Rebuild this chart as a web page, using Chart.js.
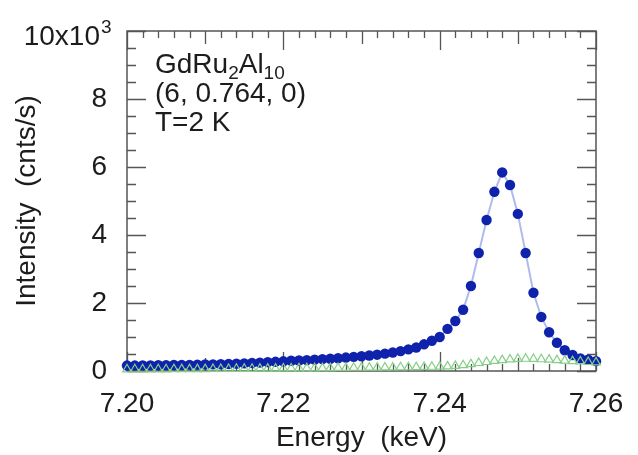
<!DOCTYPE html>
<html>
<head>
<meta charset="utf-8">
<script src="https://cdn.jsdelivr.net/npm/chart.js@4/dist/chart.umd.min.js"></script>
<style>
  html, body { margin: 0; padding: 0; background: #fff; }
  canvas { display: block; }
</style>
</head>
<body>
<canvas id="chart" width="638" height="455"></canvas>
<script>
// =========================
// DATA
// =========================
const energies = [
    7.200, 7.201, 7.202, 7.203, 7.204, 7.205, 7.206, 7.207, 7.208, 7.209,
    7.210, 7.211, 7.212, 7.213, 7.214, 7.215, 7.216, 7.217, 7.218, 7.219,
    7.220, 7.221, 7.222, 7.223, 7.224, 7.225, 7.226, 7.227, 7.228, 7.229,
    7.230, 7.231, 7.232, 7.233, 7.234, 7.235, 7.236, 7.237, 7.238, 7.239,
    7.240, 7.241, 7.242, 7.243, 7.244, 7.245, 7.246, 7.247, 7.248, 7.249,
    7.250, 7.251, 7.252, 7.253, 7.254, 7.255, 7.256, 7.257, 7.258, 7.259,
    7.260
];

// blue filled circles (cnts/s)
const intensityMain = [
    160, 160, 165, 165, 170, 170, 175, 175, 180, 185,
    190, 195, 200, 205, 215, 225, 235, 245, 260, 270,
    285, 300, 310, 320, 335, 350, 360, 375, 395, 415,
    435, 455, 480, 510, 545, 585, 635, 690, 785, 890,
    1000, 1240, 1470, 1800, 2500, 3470, 4440, 5270, 5840, 5470,
    4620, 3470, 2300, 1590, 1140, 830, 610, 470, 370, 330,
    290
];

// green open triangles (cnts/s)
const intensityOther = [
    50, 50, 50, 50, 50, 50, 55, 55, 55, 55,
    55, 60, 60, 60, 65, 65, 65, 70, 70, 70,
    75, 75, 80, 80, 80, 85, 85, 90, 90, 95,
    95, 100, 100, 105, 105, 110, 110, 115, 120, 125,
    130, 135, 150, 170, 200, 235, 265, 295, 320, 340,
    355, 360, 355, 345, 335, 320, 305, 290, 280, 265,
    255
];

const xTickLabels = ['7.20', '7.22', '7.24', '7.26'];
const yTickLabels = ['0', '2', '4', '6', '8', '10x10'];

const annotationLines = ['GdRu|2|Al|10', '(6, 0.764, 0)', 'T=2 K'];

// =========================
// STYLE
// =========================
const FONT = "'Liberation Sans', Arial, sans-serif";
const TEXT_COLOR = '#1c1c1c';
const AXIS_COLOR = '#555';

// =========================
// FRAME + INSIDE TICKS
// =========================
const frameTicks = {
    id: 'frameTicks',
    beforeDatasetsDraw(chart) {
        const { ctx, chartArea: a, scales: { x, y } } = chart;
        ctx.save();
        ctx.strokeStyle = AXIS_COLOR;
        ctx.lineWidth = 1.3;

        // x ticks, bottom + top
        for (let i = 0; i <= 30; i++) {
            const px = Math.round(x.getPixelForValue(7.2 + i * 0.002)) + 0.5;
            const len = i % 10 === 0 ? 19 : (i % 5 === 0 ? 13 : 7);
            ctx.beginPath();
            ctx.moveTo(px, a.bottom); ctx.lineTo(px, a.bottom - len);
            ctx.moveTo(px, a.top); ctx.lineTo(px, a.top + len);
            ctx.stroke();
        }

        // y ticks, left + right
        for (let i = 0; i <= 20; i++) {
            const py = Math.round(y.getPixelForValue(i * 500)) + 0.5;
            const len = i % 4 === 0 ? 19 : 9;
            ctx.beginPath();
            ctx.moveTo(a.left, py); ctx.lineTo(a.left + len, py);
            ctx.moveTo(a.right, py); ctx.lineTo(a.right - len, py);
            ctx.stroke();
        }

        ctx.lineWidth = 1.5;
        ctx.strokeRect(a.left, a.top, a.right - a.left, a.bottom - a.top);
        ctx.restore();
    },

    afterDraw(chart) {
        const { ctx, scales: { y } } = chart;
        ctx.save();
        ctx.fillStyle = TEXT_COLOR;
        ctx.textBaseline = 'alphabetic';

        // top y label with exponent
        const yTop = y.getPixelForValue(10000);
        ctx.font = `28px ${FONT}`;
        ctx.textAlign = 'right';
        ctx.fillText(yTickLabels[5], 100, yTop + 14);
        ctx.font = `19px ${FONT}`;
        ctx.textAlign = 'left';
        ctx.fillText('3', 101, yTop + 2);

        // sample annotation
        let tx = 155;
        const big = `28px ${FONT}`, small = `19px ${FONT}`;
        const parts = annotationLines[0].split('|');
        parts.forEach((p, k) => {
            const sub = k % 2 === 1;
            ctx.font = sub ? small : big;
            ctx.fillText(p, tx, sub ? 79 : 73);
            tx += ctx.measureText(p).width;
        });
        ctx.font = big;
        ctx.fillText(annotationLines[1], 155, 102);
        ctx.fillText(annotationLines[2], 155, 131);
        ctx.restore();
    }
};

// =========================
// CHART
// =========================
function buildChart() {
    const ctx = document.getElementById('chart').getContext('2d');

    const mainPts = energies.map((e, i) => ({ x: e, y: intensityMain[i] }));
    const otherPts = energies.map((e, i) => ({ x: e, y: intensityOther[i] }));

    new Chart(ctx, {
        type: 'scatter',
        data: {
            datasets: [
                {
                    data: otherPts,
                    showLine: false,
                    clip: false,
                    pointStyle: 'triangle',
                    pointRadius: 5,
                    pointBorderWidth: 1.2,
                    pointBorderColor: '#86cf86',
                    pointBackgroundColor: 'rgba(255,255,255,0)'
                },
                {
                    data: mainPts,
                    showLine: true,
                    clip: false,
                    borderColor: 'rgba(125, 140, 228, 0.6)',
                    borderWidth: 2,
                    pointRadius: 5.2,
                    pointBorderWidth: 0,
                    pointBackgroundColor: '#0f22ac'
                }
            ]
        },
        options: {
            responsive: false,
            animation: false,
            devicePixelRatio: 1,
            layout: { padding: { top: 31, right: 42, left: 0, bottom: 0 } },
            plugins: { legend: { display: false }, tooltip: { enabled: false } },
            scales: {
                x: {
                    type: 'linear',
                    min: 7.2,
                    max: 7.26,
                    grid: { display: false },
                    border: { display: false },
                    afterFit: s => { s.height = 84; },
                    afterBuildTicks: s => {
                        s.ticks = xTickLabels.map(t => ({ value: parseFloat(t) }));
                    },
                    ticks: {
                        padding: 8,
                        color: TEXT_COLOR,
                        font: { family: FONT, size: 28 },
                        maxRotation: 0,
                        callback: v => v.toFixed(2)
                    },
                    title: {
                        display: true,
                        text: 'Energy  (keV)',
                        color: TEXT_COLOR,
                        font: { family: FONT, size: 28 },
                        padding: { top: 0, bottom: 0 }
                    }
                },
                y: {
                    min: 0,
                    max: 10000,
                    grid: { display: false },
                    border: { display: false },
                    afterFit: s => { s.width = 127; },
                    ticks: {
                        stepSize: 2000,
                        padding: 12,
                        color: TEXT_COLOR,
                        font: { family: FONT, size: 28 },
                        callback: (v, i) => (v === 10000 ? '' : yTickLabels[i])
                    },
                    title: {
                        display: true,
                        text: 'Intensity  (cnts/s)',
                        color: TEXT_COLOR,
                        font: { family: FONT, size: 28 },
                        padding: { top: 10, bottom: 0 }
                    }
                }
            }
        },
        plugins: [frameTicks]
    });
}

buildChart();
</script>
</body>
</html>
